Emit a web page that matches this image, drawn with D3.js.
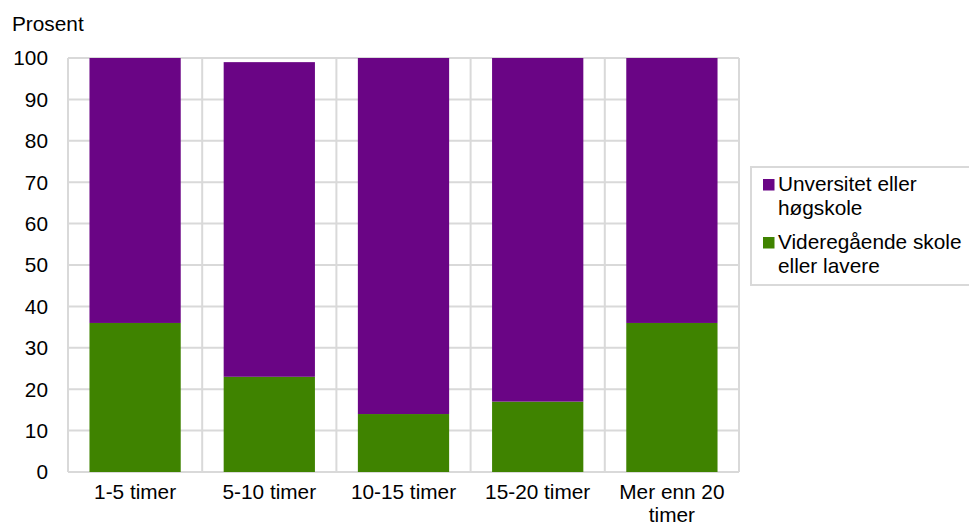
<!DOCTYPE html>
<html><head><meta charset="utf-8">
<script src="https://cdn.jsdelivr.net/npm/d3@7"></script>
<style>body{margin:0;background:#fff}svg{display:block;font-family:Arial,"Liberation Sans",sans-serif}</style>
</head><body><svg id="c" width="969" height="525"></svg>
<script>
const categories = ["1-5 timer","5-10 timer","10-15 timer","15-20 timer","Mer enn 20 timer"];
const categoryLines = [["1-5 timer"],["5-10 timer"],["10-15 timer"],["15-20 timer"],["Mer enn 20","timer"]];
const seriesNames = ["Videregående skole eller lavere","Unversitet eller høgskole"];
const videregaende = [36, 23, 14, 17, 36];
const universitet = [64, 76, 86, 83, 64];
const yTicks = [0,10,20,30,40,50,60,70,80,90,100];
const colors = ["#3f8300","#6a0585"];

const svg = d3.select("#c");
const L=68, R=739, T=58, B=472;
const x = d3.scaleBand().domain(categories).range([L,R]).paddingInner(0.32).paddingOuter(0.16);
const xb = d3.scaleBand().domain(categories).range([L,R]);
const y = d3.scaleLinear().domain([0,100]).range([B,T]);
const fs = 20.8;

// gridlines
const g = svg.append("g");
g.selectAll("line.h").data(yTicks).join("line")
  .attr("x1",L).attr("x2",R).attr("y1",d=>y(d)).attr("y2",d=>y(d))
  .attr("stroke","#d9d9d9").attr("stroke-width",2);
const vb = categories.map(c=>xb(c)).concat([R]);
g.selectAll("line.v").data(vb).join("line")
  .attr("x1",d=>d).attr("x2",d=>d).attr("y1",T).attr("y2",B)
  .attr("stroke","#d9d9d9").attr("stroke-width",2);

// stacked bars
const rows = categories.map((c,i)=>({cat:c, v:videregaende[i], u:universitet[i]}));
const stack = d3.stack().keys(["v","u"])(rows);
svg.selectAll("g.s").data(stack).join("g").attr("fill",(d,i)=>colors[i])
  .selectAll("rect").data(d=>d).join("rect")
  .attr("x",d=>x(d.data.cat)).attr("width",x.bandwidth())
  .attr("y",d=>y(d[1])).attr("height",d=>y(d[0])-y(d[1]));

// y axis labels
svg.selectAll("text.yt").data(yTicks).join("text")
  .attr("x",48).attr("y",d=>y(d)).attr("dy","0.36em").attr("text-anchor","end")
  .attr("font-size",fs).attr("fill","#000").text(d=>d);
svg.append("text").attr("x",12).attr("y",31).attr("font-size",fs).text("Prosent");

// x labels
categories.forEach((c,i)=>{
  const t = svg.append("text").attr("text-anchor","middle").attr("font-size",fs)
    .attr("x", xb(c)+xb.bandwidth()/2).attr("y",499);
  categoryLines[i].forEach((ln,j)=>t.append("tspan").attr("x",xb(c)+xb.bandwidth()/2).attr("y",499+j*23).text(ln));
});

// legend
svg.append("rect").attr("x",751).attr("y",167).attr("width",230).attr("height",118)
  .attr("fill","#fff").attr("stroke","#d9d9d9").attr("stroke-width",2);
const legendItems = [
  {name:seriesNames[1], lines:["Unversitet eller","høgskole"], color:colors[1], y:179},
  {name:seriesNames[0], lines:["Videregående skole","eller lavere"], color:colors[0], y:237}
];
legendItems.forEach(it=>{
  svg.append("rect").attr("x",763).attr("y",it.y).attr("width",11.5).attr("height",11.5).attr("fill",it.color);
  const t = svg.append("text").attr("font-size",fs);
  it.lines.forEach((ln,j)=>t.append("tspan").attr("x",778).attr("y",it.y+12+j*24).text(ln));
});
</script></body></html>
